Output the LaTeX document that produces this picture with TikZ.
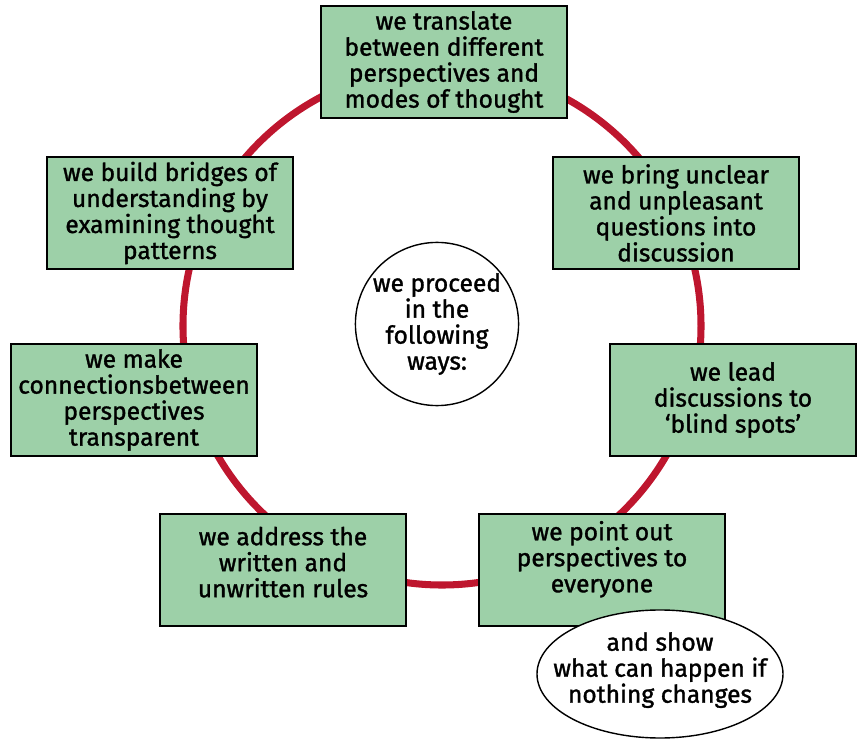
\documentclass[tikz,border=0pt]{standalone}
\usepackage{fontspec}
\setmainfont{Fira Sans}
\newfontfamily\wayfont{Fira Sans}[FakeBold=1.3]
\usepackage{tikz}
\usetikzlibrary{shapes.geometric}

\definecolor{boxgreen}{RGB}{157,208,168}
\definecolor{ringred}{RGB}{190,22,46}

\begin{document}
\begin{tikzpicture}[x=0.03cm, y=-0.03cm,
    waybox/.style = {draw=black, line width=1.3pt, fill=boxgreen,
      minimum width=7.38cm, minimum height=3.36cm, align=center,
      inner sep=2pt, font=\wayfont\fontsize{21}{22.2}\selectfont},
    hub/.style = {draw=black, line width=1.2pt, fill=white, circle,
      minimum size=4.55cm, inner sep=0pt, align=center,
      font=\wayfont\fontsize{21}{22.2}\selectfont},
    outcome/.style = {draw=black, line width=1.2pt, fill=white, ellipse,
      minimum width=7.38cm, minimum height=3.84cm, inner xsep=-0.6cm,
      inner ysep=0pt, align=center,
      font=\wayfont\fontsize{21}{22.2}\selectfont}]
    \useasboundingbox (0,0) rectangle (861,740);
    % Draw the ring
    \draw[ringred, line width=6pt] (442,326) circle[radius=7.77cm];
    % Draw the boxes round the ring
    \node[waybox] (translate) at (444,62) {we translate\\between different\\perspectives and\\modes of thought};
    \node[waybox] (bridges) at (170,213) {we build bridges of\\understanding by\\examining thought\\patterns};
    \node[waybox] (unclear) at (676,213) {we bring unclear\\and unpleasant\\questions into\\discussion};
    \node[waybox] (connect) at (134,400) {we make\\connectionsbetween\\perspectives\\transparent};
    \node[waybox] (blind) at (733,400) {we lead\\discussions to\\‘blind spots’};
    \node[waybox, text depth=0.48cm] (rules) at (283,570) {we address the\\written and\\unwritten rules};
    \node[waybox, text depth=0.8cm] (pointout) at (602,570) {we point out\\perspectives to\\everyone};
    % Draw the centre and the note
    \node[hub] (proceed) at (437,324) {we proceed\\in the\\following\\ways:};
    \node[outcome, text depth=0.39cm] (show) at (660,674) {and show\\what can happen if\\nothing changes};
\end{tikzpicture}
\end{document}
